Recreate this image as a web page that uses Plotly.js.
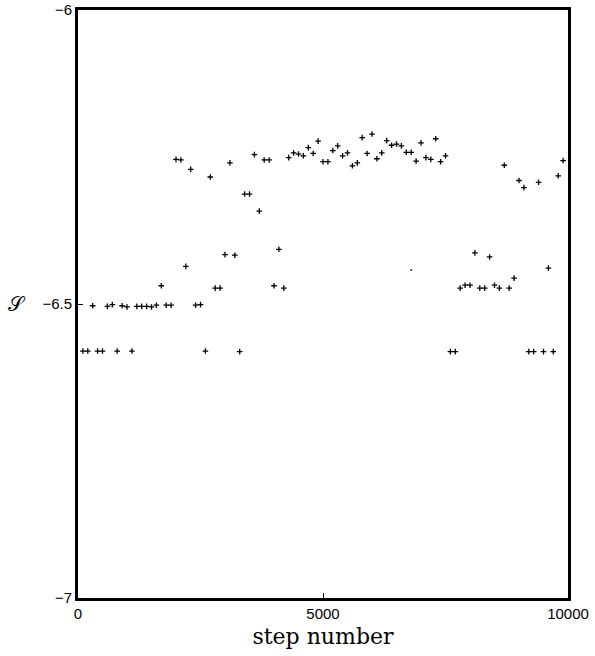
<!DOCTYPE html>
<html>
<head>
<meta charset="utf-8">
<script src="https://cdn.plot.ly/plotly-3.0.1.min.js"></script>
<style>
  html, body { margin: 0; padding: 0; background: #fff; }
  #chart { width: 595px; height: 656px; }
</style>
</head>
<body>
<div id="chart"></div>
<script>
// Monte Carlo history: one sample every 100 steps
const stepInterval = 100;
const sampleValues = [
  -6.580, -6.580, -6.503, -6.580, -6.580, -6.504, -6.501, -6.580, -6.503, -6.505,
  -6.580, -6.504, -6.504, -6.504, -6.505, -6.502, -6.469, -6.502, -6.502, -6.254,
  -6.255, -6.436, -6.271, -6.502, -6.501, -6.580, -6.284, -6.473, -6.473, -6.416,
  -6.260, -6.417, -6.581, -6.313, -6.313, -6.246, -6.342, -6.255, -6.255, -6.469,
  -6.407, -6.473, -6.251, -6.243, -6.245, -6.248, -6.234, -6.244, -6.223, -6.258,
  -6.258, -6.239, -6.231, -6.248, -6.243, -6.265, -6.260, -6.217, -6.244, -6.211,
  -6.253, -6.243, -6.222, -6.230, -6.228, -6.231, -6.242, -6.242, -6.257, -6.226,
  -6.251, -6.254, -6.219, -6.258, -6.248, -6.581, -6.581, -6.473, -6.468, -6.468,
  -6.413, -6.473, -6.473, -6.420, -6.468, -6.473, -6.264, -6.473, -6.456, -6.290,
  -6.302, -6.581, -6.581, -6.293, -6.581, -6.439, -6.581, -6.282, -6.256
];
const sampleSteps = sampleValues.map((_, i) => (i + 1) * stepInterval);

// a single faint extra sample
const strayStep = [6800];
const strayValue = [-6.442];

const xTickVals = [0, 5000, 10000];
const xTickText = ['0', '5000', '10000'];
const yTickVals = [-7, -6.5, -6];
const yTickText = ['\u22127', '\u22126.5', '\u22126'];

const traces = [
  {
    x: sampleSteps, y: sampleValues, type: 'scatter', mode: 'markers',
    marker: { symbol: 'cross-thin', size: 4, color: '#000', line: { color: '#000', width: 1.3 } },
    hoverinfo: 'x+y', showlegend: false
  },
  {
    x: strayStep, y: strayValue, type: 'scatter', mode: 'markers',
    marker: { symbol: 'circle', size: 2, color: '#333' },
    hoverinfo: 'x+y', showlegend: false
  }
];

const layout = {
  width: 595, height: 656,
  margin: { l: 78, r: 27, t: 10, b: 58, pad: 0 },
  paper_bgcolor: '#fff', plot_bgcolor: '#fff',
  showlegend: false,
  font: { family: 'Liberation Sans, Arial, sans-serif', color: '#000' },
  xaxis: {
    range: [0, 10000],
    tickvals: xTickVals, ticktext: xTickText,
    ticks: 'inside', ticklen: 5, tickwidth: 1, tickcolor: '#000',
    showline: true, mirror: true, linewidth: 3, linecolor: '#000',
    showgrid: false, zeroline: false,
    tickfont: { family: 'Liberation Sans, Arial, sans-serif', size: 15, color: '#000' },
    title: { text: 'step number', standoff: 8,
             font: { family: 'DejaVu Serif, serif', size: 22, color: '#000' } }
  },
  yaxis: {
    range: [-7, -6],
    tickvals: yTickVals, ticktext: yTickText,
    ticks: 'inside', ticklen: 5, tickwidth: 1, tickcolor: '#000',
    showline: true, mirror: true, linewidth: 3, linecolor: '#000',
    showgrid: false, zeroline: false,
    tickfont: { family: 'Liberation Sans, Arial, sans-serif', size: 15, color: '#000' }
  },
  annotations: [
    {
      text: '\u{1D4AE}', xref: 'paper', yref: 'y', x: -0.125, y: -6.5,
      xanchor: 'center', yanchor: 'middle', showarrow: false,
      font: { family: 'DejaVu Serif, Noto Sans, serif', size: 20, color: '#000' }
    }
  ]
};

Plotly.newPlot('chart', traces, layout, { staticPlot: true, displayModeBar: false });
</script>
</body>
</html>
